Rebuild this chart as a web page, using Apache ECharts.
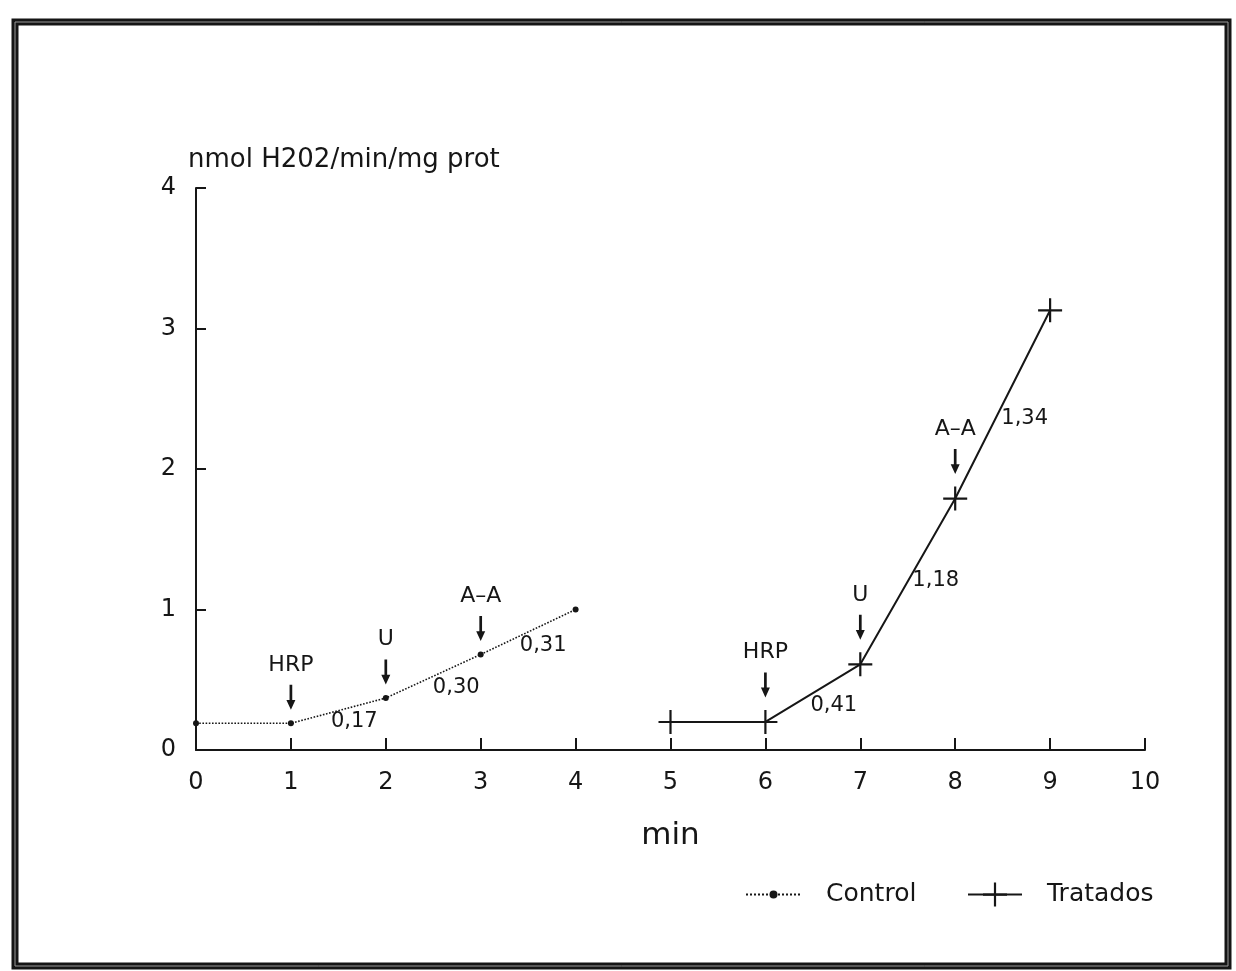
<!DOCTYPE html>
<html>
<head>
<meta charset="utf-8">
<script src="https://cdn.jsdelivr.net/npm/echarts@6/dist/echarts.min.js"></script>
<style>
html,body{margin:0;padding:0;background:#fff;}
#chart{width:1236px;height:971px;}
</style>
</head>
<body>
<div id="chart"></div>
<script>
// ---- data ----
const controlX = [0, 1, 2, 3, 4];
const controlY = [0.19, 0.19, 0.37, 0.68, 1.00];
const tratadosX = [5, 6, 7, 8, 9];
const tratadosY = [0.20, 0.20, 0.61, 1.79, 3.13];
const events = ['HRP', 'U', 'A\u2013A'];
const controlEventIdx = [1, 2, 3];
const tratadosEventIdx = [1, 2, 3];
const controlSlopes = ['0,17', '0,30', '0,31'];
const tratadosSlopes = ['0,41', '1,18', '1,34'];
const xTicks = [0,1,2,3,4,5,6,7,8,9,10];
const yTicks = [0,1,2,3,4];

// ---- styling (positions of annotation labels relative to segment midpoints) ----
const controlSlopeOffsets = [[16, 11], [23, 11], [15, 14]];
const tratadosSlopeOffsets = [[21, 12], [28, -1], [22, 14]];
const FONT = 'DejaVu Sans';
const INK = '#161616';
const arrowPath = 'path://M3.5,0 L6.5,0 L6.5,17 L10,17 L5,28 L0,17 L3.5,17 Z';
const plusPath = 'path://M0,11 L24,11 L24,13.2 L0,13.2 Z M10.9,0 L13.1,0 L13.1,24 L10.9,24 Z';

function buildMarks(xs, ys, eventIdx, slopes, offs, arrowOffset) {
  const data = [];
  eventIdx.forEach((idx, k) => {
    data.push({
      coord: [xs[idx], ys[idx]],
      symbol: arrowPath,
      symbolSize: [9, 25],
      symbolOffset: [0, arrowOffset],
      itemStyle: { color: INK },
      label: { show: true, formatter: events[k], position: 'top', distance: 9,
               fontFamily: FONT, fontSize: 22, color: INK }
    });
  });
  slopes.forEach((s, k) => {
    data.push({
      coord: [(xs[k + 1] + xs[k + 2]) / 2, (ys[k + 1] + ys[k + 2]) / 2],
      symbol: 'rect',
      symbolSize: 1,
      itemStyle: { color: 'rgba(0,0,0,0)' },
      label: { show: true, formatter: s, position: 'inside', offset: offs[k],
               fontFamily: FONT, fontSize: 21, color: INK }
    });
  });
  return { silent: true, animation: false, data: data };
}

const legendText = { fontFamily: FONT, fontSize: 25, color: INK, padding: [0, 0, 0, 20] };

const chart = echarts.init(document.getElementById('chart'), null, { renderer: 'canvas' });
chart.setOption({
  animation: false,
  backgroundColor: '#ffffff',
  graphic: [
    { type: 'rect', shape: { x: 15, y: 22, width: 1213, height: 944 },
      style: { fill: 'none', stroke: '#151515', lineWidth: 7 }, silent: true },
    { type: 'rect', shape: { x: 15, y: 22, width: 1213, height: 944 },
      style: { fill: 'none', stroke: '#9a9a9a', lineWidth: 1 }, silent: true }
  ],
  grid: { left: 196, right: 91, top: 188, bottom: 221, containLabel: false },
  legend: [
    {
      left: 740, top: 877,
      itemWidth: 55, itemHeight: 10,
      textStyle: legendText,
      data: ['Control']
    },
    {
      left: 962, top: 877,
      itemWidth: 54, itemHeight: 30,
      textStyle: legendText,
      data: ['Tratados']
    }
  ],
  xAxis: {
    type: 'value', min: 0, max: 10, interval: 1,
    name: 'min', nameLocation: 'middle', nameGap: 70,
    nameTextStyle: { fontFamily: FONT, fontSize: 31, color: INK },
    axisLine: { show: true, onZero: false, lineStyle: { color: INK, width: 2 } },
    axisTick: { show: true, inside: true, length: 12, lineStyle: { color: INK, width: 2 } },
    axisLabel: { fontFamily: FONT, fontSize: 24, color: INK, margin: 21,
                 formatter: v => xTicks.includes(v) ? String(v) : '' },
    splitLine: { show: false }
  },
  yAxis: {
    type: 'value', min: 0, max: 4, interval: 1,
    name: 'nmol H202/min/mg prot', nameLocation: 'end', nameGap: 15,
    nameTextStyle: { fontFamily: FONT, fontSize: 26, color: INK, align: 'left',
                     verticalAlign: 'bottom', padding: [0, 0, 0, -8] },
    axisLine: { show: true, lineStyle: { color: INK, width: 2 } },
    axisTick: { show: true, inside: true, length: 10, lineStyle: { color: INK, width: 2 } },
    axisLabel: { fontFamily: FONT, fontSize: 24, color: INK, margin: 20,
                 formatter: v => yTicks.includes(v) ? String(v) : '' },
    splitLine: { show: false }
  },
  series: [
    {
      name: 'Control', type: 'line',
      data: controlX.map((x, i) => [x, controlY[i]]),
      symbol: 'circle', symbolSize: 6,
      itemStyle: { color: INK },
      lineStyle: { color: INK, width: 1.6, type: 'dotted' },
      markPoint: buildMarks(controlX, controlY, controlEventIdx, controlSlopes, controlSlopeOffsets, -26)
    },
    {
      name: 'Tratados', type: 'line',
      data: tratadosX.map((x, i) => [x, tratadosY[i]]),
      symbol: plusPath, symbolSize: 24,
      itemStyle: { color: INK },
      lineStyle: { color: INK, width: 2, type: 'solid' },
      markPoint: buildMarks(tratadosX, tratadosY, tratadosEventIdx, tratadosSlopes, tratadosSlopeOffsets, -37)
    }
  ]
});
</script>
</body>
</html>
